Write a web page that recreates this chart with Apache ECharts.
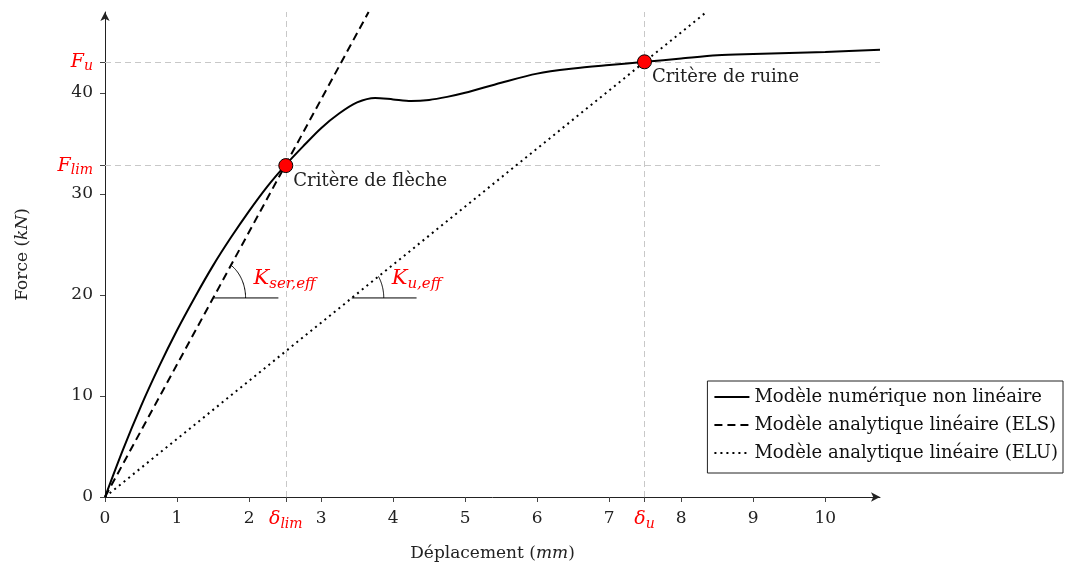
<!DOCTYPE html>
<html><head><meta charset="utf-8">
<script src="https://cdn.jsdelivr.net/npm/echarts@6/dist/echarts.min.js"></script>
<style>html,body{margin:0;padding:0;background:#fff}#c{width:1067px;height:567px}</style>
</head><body><div id="c"></div>
<script>
// ---- data ----
const CURVE_X = [0, 0.25, 0.5, 0.75, 1, 1.25, 1.5, 1.75, 2, 2.25, 2.5, 2.75, 3, 3.25, 3.5, 3.75, 4, 4.25, 4.5, 4.75, 5, 5.5, 6, 6.5, 7, 7.5, 8, 8.5, 9, 9.5, 10, 10.76];
const CURVE_Y = [0, 4.7, 9.0, 12.9, 16.5, 19.8, 22.9, 25.7, 28.3, 30.7, 32.8, 34.7, 36.5, 37.95, 39.05, 39.5, 39.35, 39.2, 39.3, 39.6, 40.0, 41.0, 41.9, 42.4, 42.75, 43.07, 43.4, 43.72, 43.85, 43.95, 44.05, 44.26];
const ELS_X = [0, 3.66], ELS_Y = [0, 48];
const ELU_X = [0, 8.35], ELU_Y = [0, 48];
const D_LIM = 2.51, F_LIM = 32.8, D_U = 7.49, F_U = 43.07;
const X_TICKS = [0, 1, 2, 3, 4, 5, 6, 7, 8, 9, 10];
const Y_TICKS = [0, 10, 20, 30, 40];
const CRIT_NAMES = ['Critère de flèche', 'Critère de ruine'];
const ANGLE_SUBS = ['ser,eff', 'u,eff'];
const ANGLE_LEVEL = 19.7;   // force level of the angle marks
const ANGLE_LEN = 0.9;      // length (mm) of the horizontal leg
const SERIES_NAMES = ['Modèle numérique non linéaire', 'Modèle analytique linéaire (ELS)', 'Modèle analytique linéaire (ELU)'];

const FONT = 'DejaVu Serif';
const RED = '#ff0000';
const zip = (a, b) => a.map((v, i) => [v, b[i]]);
const sub = {
  m: {fontFamily: FONT, fontStyle: 'italic', color: RED, fontSize: 19, lineHeight: 24, verticalAlign: 'middle'},
  s: {fontFamily: FONT, fontStyle: 'italic', color: RED, fontSize: 14, lineHeight: 12, verticalAlign: 'bottom'},
  n: {fontFamily: FONT, color: '#222', fontSize: 17, lineHeight: 24, verticalAlign: 'middle'}
};
const near = (a, b) => Math.abs(a - b) < 1e-6;

const chart = echarts.init(document.getElementById('c'), null, {renderer: 'canvas'});
const gridLine = {color: '#c8c8c8', width: 1, type: [6, 4]};

chart.setOption({
  animation: false,
  backgroundColor: '#fff',
  grid: {left: 105, right: 187, top: 12, bottom: 70},
  xAxis: {
    type: 'value', min: 0, max: 10.76,
    name: '{a|Déplacement (}{b|mm}{a|)}', nameLocation: 'middle', nameGap: 48,
    nameTextStyle: {rich: {a: {fontFamily: FONT, fontSize: 17, color: '#222'}, b: {fontFamily: FONT, fontSize: 17, fontStyle: 'italic', color: '#222'}}},
    axisLine: {show: true, onZero: false, lineStyle: {color: '#222', width: 1}, symbol: ['none', 'arrow'], symbolSize: [7, 9]},
    axisTick: {show: true, length: 5, lineStyle: {color: '#444'}, customValues: X_TICKS.concat([D_LIM, D_U])},
    axisLabel: {
      margin: 10, customValues: X_TICKS.concat([D_LIM, D_U]),
      formatter: v => near(v, D_LIM) ? '{m|δ}{s|lim}' : near(v, D_U) ? '{m|δ}{s|u}' : '{n|' + v + '}',
      rich: sub
    },
    splitLine: {show: false}
  },
  yAxis: {
    type: 'value', min: 0, max: 48,
    name: '{a|Force (}{b|kN}{a|)}', nameLocation: 'middle', nameGap: 74, nameRotate: 90,
    nameTextStyle: {rich: {a: {fontFamily: FONT, fontSize: 17, color: '#222'}, b: {fontFamily: FONT, fontSize: 17, fontStyle: 'italic', color: '#222'}}},
    axisLine: {show: true, onZero: false, lineStyle: {color: '#222', width: 1}, symbol: ['none', 'arrow'], symbolSize: [7, 9]},
    axisTick: {show: true, length: 5, lineStyle: {color: '#444'}, customValues: Y_TICKS.concat([F_LIM, F_U])},
    axisLabel: {
      margin: 12, customValues: Y_TICKS.concat([F_LIM, F_U]),
      formatter: v => near(v, F_LIM) ? '{m|F}{s|lim}' : near(v, F_U) ? '{m|F}{s|u}' : '{n|' + v + '}',
      rich: sub
    },
    splitLine: {show: false}
  },
  legend: {
    orient: 'vertical', right: 4, top: 381,
    data: SERIES_NAMES,
    backgroundColor: '#fff', borderColor: '#222', borderWidth: 1, borderRadius: 0,
    padding: [6, 5, 10, 6], itemGap: 8, itemWidth: 35, itemHeight: 14,
    itemStyle: {opacity: 0},
    textStyle: {fontFamily: FONT, fontSize: 18, color: '#111', lineHeight: 20}
  },
  series: [
    {
      name: SERIES_NAMES[0], type: 'line', data: zip(CURVE_X, CURVE_Y), smooth: 0.3,
      showSymbol: false, symbol: 'none', lineStyle: {color: '#000', width: 2}, itemStyle: {color: '#000'}, z: 3,
      markLine: {
        silent: true, symbol: 'none', label: {show: false}, lineStyle: gridLine, z: 1,
        data: [{yAxis: F_LIM}, {yAxis: F_U}, {xAxis: D_LIM}, {xAxis: D_U}]
      }
    },
    {
      name: SERIES_NAMES[1], type: 'line', data: zip(ELS_X, ELS_Y), showSymbol: false, symbol: 'none',
      lineStyle: {color: '#000', width: 2, type: [8, 5]}, itemStyle: {color: '#000'}, z: 3
    },
    {
      name: SERIES_NAMES[2], type: 'line', data: zip(ELU_X, ELU_Y), showSymbol: false, symbol: 'none',
      lineStyle: {color: '#000', width: 2, type: [2, 4]}, itemStyle: {color: '#000'}, z: 3
    },
    {
      type: 'custom', clip: false, z: 4, silent: true,
      data: [[D_LIM, F_LIM, 0], [D_U, F_U, 1]],
      encode: {x: 0, y: 1},
      renderItem: function (params, api) {
        const slope = api.value(1) / api.value(0);
        const idx = api.value(2);
        const x0 = ANGLE_LEVEL / slope;
        const p0 = api.coord([x0, ANGLE_LEVEL]);
        const p1 = api.coord([x0 + ANGLE_LEN, ANGLE_LEVEL]);
        const pl = api.coord([x0 + 1, ANGLE_LEVEL + slope]);
        const th = Math.atan2(p0[1] - pl[1], pl[0] - p0[0]); // angle above horizontal
        const a = 32, b = 39;
        const tEnd = Math.atan((a / b) * Math.tan(th));
        const pts = [];
        for (let i = 0; i <= 30; i++) {
          const t = tEnd * i / 30;
          pts.push([p0[0] + a * Math.cos(t), p0[1] - b * Math.sin(t)]);
        }
        return {
          type: 'group',
          children: [
            {type: 'line', shape: {x1: p0[0], y1: p0[1], x2: p1[0], y2: p1[1]}, style: {stroke: '#000', lineWidth: 1}},
            {type: 'polyline', shape: {points: pts}, style: {stroke: '#000', lineWidth: 1, fill: null}},
            {type: 'text', x: p0[0] + a + 8, y: p0[1] - 19,
             style: {text: '{k|K}{s|' + ANGLE_SUBS[idx] + '}', align: 'left', verticalAlign: 'middle',
               rich: {
                 k: {fontFamily: FONT, fontStyle: 'italic', fill: RED, fontSize: 21, lineHeight: 26, verticalAlign: 'middle'},
                 s: {fontFamily: FONT, fontStyle: 'italic', fill: RED, fontSize: 15, lineHeight: 13, verticalAlign: 'bottom'}
               }}}
          ]
        };
      }
    },
    {
      type: 'scatter', data: [[D_LIM, F_LIM], [D_U, F_U]], symbolSize: 14, z: 5,
      itemStyle: {color: RED, borderColor: '#000', borderWidth: 1, opacity: 1},
      label: {
        show: true, position: [15, 23], align: 'left', verticalAlign: 'middle',
        formatter: p => CRIT_NAMES[p.dataIndex],
        fontFamily: FONT, fontSize: 18, color: '#222'
      }
    }
  ]
});
</script></body></html>
